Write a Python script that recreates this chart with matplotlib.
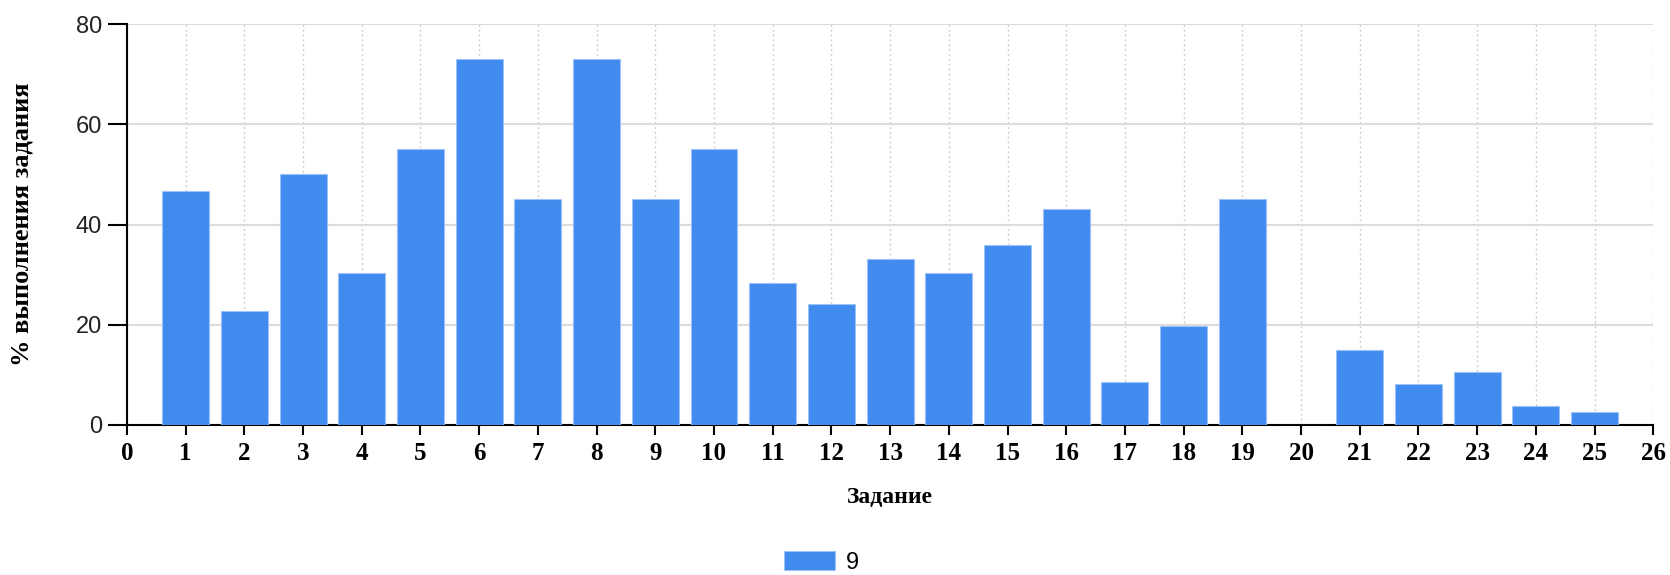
import matplotlib
matplotlib.use("Agg")
import matplotlib.pyplot as plt
import numpy as np

# номера заданий и процент выполнения
tasks = list(range(1, 26))
percent = [46.7, 22.8, 50.0, 30.4, 55.1, 73.0, 45.1, 73.0, 45.1, 55.0,
           28.4, 24.1, 33.2, 30.4, 35.9, 43.1, 8.5, 19.7, 45.1, 0.0,
           14.9, 8.1, 10.6, 3.7, 2.5]
series_name = "9"
x_ticks = list(range(0, 27))
y_ticks = [0, 20, 40, 60, 80]

BAR_COLOR = "#428bee"
SERIF = "Liberation Serif"
SANS = "Liberation Sans"

fig = plt.figure(figsize=(16.7, 5.75), dpi=100)
ax = fig.add_axes([0.076, 0.261, 0.914, 0.697])

ax.bar(tasks, percent, width=0.8, color=BAR_COLOR, edgecolor="#9cc2f7",
       linewidth=0.8, label=series_name, zorder=3)

ax.set_xlim(0, 26)
ax.set_ylim(0, 80)
ax.set_xticks(x_ticks)
ax.set_yticks(y_ticks)
ax.set_xticklabels([str(t) for t in x_ticks], fontfamily=SERIF,
                   fontweight="bold", fontsize=18)
ax.set_yticklabels([str(t) for t in y_ticks], fontfamily=SANS,
                   fontsize=17, color="#222222")

ax.tick_params(axis="x", length=7, width=1.5, pad=5)
ax.tick_params(axis="y", length=14, width=1.5, pad=4)

ax.grid(axis="y", color="#dcdcdc", linewidth=1.5, linestyle="-", zorder=0)
ax.grid(axis="x", color="#cfcfcf", linewidth=1.0, linestyle=(0, (1.5, 2)), zorder=0)
ax.set_axisbelow(True)

for side in ["top", "right"]:
    ax.spines[side].set_visible(False)
for side in ["left", "bottom"]:
    ax.spines[side].set_linewidth(1.5)
    ax.spines[side].set_color("black")

ax.set_xlabel("Задание", fontfamily=SERIF, fontweight="bold", fontsize=17,
              va="center")
ax.xaxis.set_label_coords(0.5, -0.182)
ax.set_ylabel("% выполнения задания", fontfamily=SERIF, fontweight="bold",
              fontsize=19, va="center")
ax.yaxis.set_label_coords(-0.069, 0.5)

fig.legend(loc="lower center", bbox_to_anchor=(0.492, -0.035), frameon=False,
           prop={"family": SANS, "size": 17}, handlelength=2.15,
           handleheight=0.85, handletextpad=0.5)

fig.savefig("out.png", dpi=100)
